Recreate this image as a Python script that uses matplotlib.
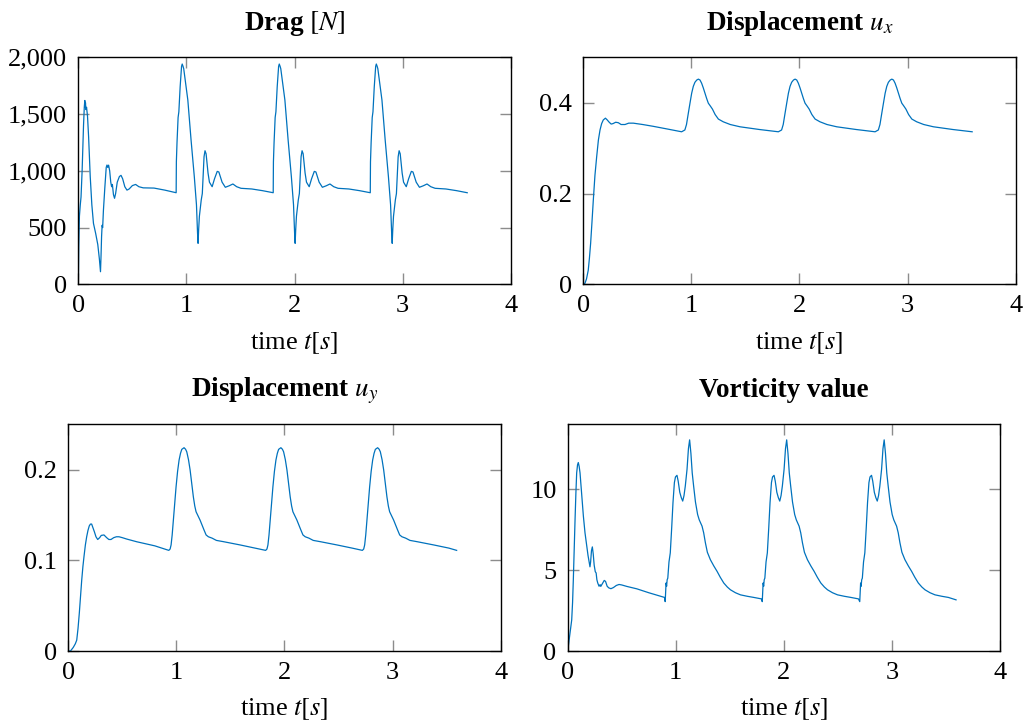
import matplotlib
matplotlib.use("Agg")
import matplotlib.pyplot as plt
from matplotlib.ticker import FuncFormatter

plt.rcParams['font.family'] = 'serif'
plt.rcParams['font.serif'] = ['Liberation Serif', 'DejaVu Serif']
plt.rcParams['mathtext.fontset'] = 'stix'
plt.rcParams['font.size'] = 19

BLUE = '#0072BD'

# ---- Drag [N] ----
t_drag = [0.000, 0.004, 0.010, 0.018, 0.025, 0.035, 0.048, 0.055, 0.060, 0.063, 0.066, 0.070, 0.076, 0.085,
          0.095, 0.110, 0.125, 0.140, 0.160, 0.180, 0.195, 0.205, 0.210, 0.215, 0.220, 0.225, 0.232, 0.245,
          0.258, 0.265, 0.272, 0.280, 0.290, 0.300, 0.308, 0.315, 0.325, 0.335, 0.345, 0.360, 0.380, 0.395,
          0.410, 0.430, 0.450, 0.470, 0.500, 0.530, 0.560, 0.600, 0.700, 0.800,
          0.905, 0.907, 0.913, 0.917, 0.923, 0.930, 0.942, 0.955, 0.961, 0.969, 0.975, 1.013, 1.043, 1.073,
          1.093, 1.103, 1.108, 1.113, 1.120, 1.137, 1.147, 1.163, 1.172, 1.182, 1.200, 1.213, 1.238, 1.260,
          1.285, 1.300, 1.330, 1.360, 1.395, 1.430, 1.465, 1.505, 1.605, 1.705,
          1.803, 1.805, 1.811, 1.815, 1.821, 1.828, 1.840, 1.853, 1.859, 1.867, 1.873, 1.911, 1.941, 1.971,
          1.991, 2.001, 2.006, 2.011, 2.018, 2.035, 2.045, 2.061, 2.070, 2.080, 2.098, 2.111, 2.136, 2.158,
          2.183, 2.198, 2.228, 2.258, 2.293, 2.328, 2.363, 2.403, 2.503, 2.603,
          2.701, 2.703, 2.709, 2.713, 2.719, 2.726, 2.738, 2.751, 2.757, 2.765, 2.771, 2.809, 2.839, 2.869,
          2.889, 2.899, 2.904, 2.909, 2.916, 2.933, 2.943, 2.959, 2.968, 2.978, 2.996, 3.009, 3.034, 3.056,
          3.081, 3.096, 3.126, 3.156, 3.191, 3.226, 3.261, 3.301, 3.401, 3.501, 3.598]
drag = [0, 330, 600, 700, 770, 1000, 1400, 1560, 1620, 1560, 1600, 1540, 1560, 1480,
        1300, 950, 700, 537, 450, 350, 220, 111, 250, 420, 520, 500, 650, 850,
        1030, 1051, 1030, 1050, 1000, 900, 860, 880, 790, 758, 800, 900, 950, 960,
        930, 860, 830, 840, 870, 880, 860, 850, 848, 830,
        807, 1080, 1250, 1330, 1470, 1520, 1741, 1920, 1941, 1920, 1900, 1624, 1271, 948,
        700, 449, 361, 480, 600, 743, 800, 1124, 1177, 1150, 980, 900, 860, 930,
        995, 990, 900, 855, 868, 884, 860, 846, 840, 825,
        807, 1080, 1250, 1330, 1470, 1520, 1741, 1920, 1941, 1920, 1900, 1624, 1271, 948,
        700, 449, 361, 480, 600, 743, 800, 1124, 1177, 1150, 980, 900, 860, 930,
        995, 990, 900, 855, 868, 884, 860, 846, 840, 825,
        807, 1080, 1250, 1330, 1470, 1520, 1741, 1920, 1941, 1920, 1900, 1624, 1271, 948,
        700, 449, 361, 480, 600, 743, 800, 1124, 1177, 1150, 980, 900, 860, 930,
        995, 990, 900, 855, 868, 884, 860, 846, 840, 825, 807]

# ---- Displacement u_x ----
t_ux = [0.000, 0.015, 0.030, 0.046, 0.057, 0.068, 0.080, 0.093, 0.108, 0.124, 0.140, 0.155, 0.170, 0.185,
        0.205, 0.222, 0.240, 0.258, 0.275, 0.300, 0.324, 0.350, 0.386, 0.420, 0.463, 0.550, 0.648, 0.780,
        0.910, 0.940, 0.955, 0.972, 0.988, 1.003, 1.018, 1.033, 1.050, 1.065, 1.080, 1.095, 1.110, 1.126,
        1.142, 1.157, 1.175, 1.195, 1.220, 1.250, 1.295, 1.360, 1.450, 1.630,
        1.805, 1.835, 1.850, 1.867, 1.883, 1.898, 1.913, 1.928, 1.945, 1.960, 1.975, 1.990, 2.005, 2.021,
        2.037, 2.052, 2.070, 2.090, 2.115, 2.145, 2.190, 2.255, 2.345, 2.525,
        2.700, 2.730, 2.745, 2.762, 2.778, 2.793, 2.808, 2.823, 2.840, 2.855, 2.870, 2.885, 2.900, 2.916,
        2.932, 2.947, 2.965, 2.985, 3.010, 3.040, 3.085, 3.150, 3.240, 3.420, 3.598]
ux = [0.000, 0.002, 0.012, 0.031, 0.058, 0.090, 0.135, 0.186, 0.240, 0.281, 0.318, 0.340, 0.354, 0.362,
      0.366, 0.362, 0.357, 0.353, 0.354, 0.357, 0.356, 0.352, 0.352, 0.355, 0.355, 0.352, 0.348, 0.342,
      0.336, 0.340, 0.352, 0.377, 0.400, 0.421, 0.436, 0.445, 0.450, 0.452, 0.450, 0.443, 0.433, 0.421,
      0.409, 0.399, 0.393, 0.386, 0.374, 0.364, 0.358, 0.352, 0.347, 0.341,
      0.336, 0.340, 0.352, 0.377, 0.400, 0.421, 0.436, 0.445, 0.450, 0.452, 0.450, 0.443, 0.433, 0.421,
      0.409, 0.399, 0.393, 0.386, 0.374, 0.364, 0.358, 0.352, 0.347, 0.341,
      0.336, 0.340, 0.352, 0.377, 0.400, 0.421, 0.436, 0.445, 0.450, 0.452, 0.450, 0.443, 0.433, 0.421,
      0.409, 0.399, 0.393, 0.386, 0.374, 0.364, 0.358, 0.352, 0.347, 0.341, 0.336]

# ---- Displacement u_y ----
t_uy = [0.000, 0.020, 0.046, 0.065, 0.078, 0.090, 0.102, 0.113, 0.124, 0.135, 0.145, 0.158, 0.170, 0.182,
        0.194, 0.205, 0.216, 0.228, 0.241, 0.256, 0.272, 0.290, 0.305, 0.330, 0.355, 0.375, 0.395, 0.420,
        0.445, 0.469, 0.500, 0.540, 0.633, 0.800,
        0.930, 0.942, 0.951, 0.961, 0.972, 0.985, 0.997, 1.011, 1.025, 1.038, 1.050, 1.071, 1.085, 1.096,
        1.112, 1.127, 1.142, 1.157, 1.170, 1.182, 1.200, 1.219, 1.240, 1.256, 1.275, 1.296, 1.330, 1.370,
        1.435, 1.589, 1.730,
        1.826, 1.838, 1.847, 1.857, 1.868, 1.881, 1.893, 1.907, 1.921, 1.934, 1.946, 1.967, 1.981, 1.992,
        2.008, 2.023, 2.038, 2.053, 2.066, 2.078, 2.096, 2.115, 2.136, 2.152, 2.171, 2.192, 2.226, 2.266,
        2.331, 2.485, 2.626,
        2.721, 2.733, 2.742, 2.752, 2.763, 2.776, 2.788, 2.802, 2.816, 2.829, 2.841, 2.862, 2.876, 2.887,
        2.903, 2.918, 2.933, 2.948, 2.961, 2.973, 2.991, 3.010, 3.031, 3.047, 3.066, 3.087, 3.121, 3.161,
        3.226, 3.380, 3.521, 3.593]
uy = [0.000, 0.000, 0.004, 0.008, 0.012, 0.025, 0.042, 0.060, 0.078, 0.093, 0.104, 0.117, 0.126, 0.133,
      0.138, 0.140, 0.140, 0.136, 0.1316, 0.126, 0.123, 0.125, 0.1275, 0.128, 0.125, 0.123, 0.123, 0.125,
      0.126, 0.126, 0.125, 0.1235, 0.1205, 0.116,
      0.111, 0.1125, 0.117, 0.128, 0.144, 0.163, 0.181, 0.198, 0.2106, 0.218, 0.2224, 0.2242, 0.2225, 0.2197,
      0.211, 0.1996, 0.185, 0.170, 0.160, 0.1536, 0.149, 0.1444, 0.138, 0.1334, 0.128, 0.126, 0.1245, 0.122,
      0.1206, 0.117, 0.1135,
      0.111, 0.1125, 0.117, 0.128, 0.144, 0.163, 0.181, 0.198, 0.2106, 0.218, 0.2224, 0.2242, 0.2225, 0.2197,
      0.211, 0.1996, 0.185, 0.170, 0.160, 0.1536, 0.149, 0.1444, 0.138, 0.1334, 0.128, 0.126, 0.1245, 0.122,
      0.1206, 0.117, 0.1135,
      0.111, 0.1125, 0.117, 0.128, 0.144, 0.163, 0.181, 0.198, 0.2106, 0.218, 0.2224, 0.2242, 0.2225, 0.2197,
      0.211, 0.1996, 0.185, 0.170, 0.160, 0.1536, 0.149, 0.1444, 0.138, 0.1334, 0.128, 0.126, 0.1245, 0.122,
      0.1206, 0.117, 0.1135, 0.111]

# ---- Vorticity value ----
t_vort = [0.000, 0.015, 0.030, 0.037, 0.045, 0.052, 0.060, 0.068, 0.076, 0.083, 0.091, 0.098, 0.106, 0.114,
          0.130, 0.145, 0.160, 0.176, 0.188, 0.200, 0.206, 0.212, 0.220, 0.228, 0.236, 0.245, 0.255, 0.263,
          0.270, 0.278, 0.290, 0.300, 0.306, 0.320, 0.338, 0.350, 0.365, 0.380, 0.400, 0.423, 0.450, 0.475,
          0.500, 0.547, 0.640, 0.750, 0.850, 0.896,
          0.902, 0.906, 0.910, 0.915, 0.920, 0.926, 0.937, 0.949, 0.962, 0.974, 0.987, 0.997, 1.011, 1.022,
          1.037, 1.051, 1.064, 1.076, 1.088, 1.104, 1.117, 1.128, 1.140, 1.152, 1.165, 1.182, 1.202, 1.217,
          1.243, 1.258, 1.274, 1.292, 1.320, 1.352, 1.382, 1.412, 1.444, 1.477, 1.506, 1.552, 1.598, 1.662,
          1.722, 1.792,
          1.800, 1.804, 1.808, 1.813, 1.818, 1.824, 1.835, 1.847, 1.860, 1.872, 1.885, 1.895, 1.909, 1.920,
          1.935, 1.949, 1.962, 1.974, 1.986, 2.002, 2.015, 2.026, 2.038, 2.050, 2.063, 2.080, 2.100, 2.115,
          2.141, 2.156, 2.172, 2.190, 2.218, 2.250, 2.280, 2.310, 2.342, 2.375, 2.404, 2.450, 2.496, 2.560,
          2.620, 2.690,
          2.702, 2.706, 2.710, 2.715, 2.720, 2.726, 2.737, 2.749, 2.762, 2.774, 2.787, 2.797, 2.811, 2.822,
          2.837, 2.851, 2.864, 2.876, 2.888, 2.904, 2.917, 2.928, 2.940, 2.952, 2.965, 2.982, 3.002, 3.017,
          3.043, 3.058, 3.074, 3.092, 3.120, 3.152, 3.182, 3.212, 3.244, 3.277, 3.306, 3.352, 3.398, 3.462,
          3.522, 3.593]
vort = [0.0, 0.8, 1.6, 1.92, 3.0, 4.4, 6.3, 8.12, 9.8, 11.0, 11.5, 11.64, 11.4, 11.0,
        9.6, 8.33, 7.3, 6.47, 5.9, 5.44, 5.2, 5.5, 6.2, 6.43, 6.0, 5.3, 4.9, 4.82,
        4.4, 4.2, 4.0, 4.1, 3.99, 4.15, 4.36, 4.3, 4.0, 3.9, 3.85, 3.92, 4.05, 4.11,
        4.08, 3.99, 3.84, 3.6, 3.4, 3.31,
        3.05, 3.6, 4.2, 4.0, 4.4, 4.5, 5.5, 6.06, 7.6, 9.16, 10.4, 10.75, 10.85, 10.5,
        9.8, 9.47, 9.26, 9.6, 10.19, 11.22, 12.5, 13.04, 12.2, 11.0, 10.19, 9.2, 8.43, 8.1,
        7.71, 7.3, 6.68, 6.1, 5.64, 5.25, 4.92, 4.55, 4.20, 3.95, 3.78, 3.6, 3.47, 3.38,
        3.31, 3.22,
        3.05, 3.6, 4.2, 4.0, 4.4, 4.5, 5.5, 6.06, 7.6, 9.16, 10.4, 10.75, 10.85, 10.5,
        9.8, 9.47, 9.26, 9.6, 10.19, 11.22, 12.5, 13.04, 12.2, 11.0, 10.19, 9.2, 8.43, 8.1,
        7.71, 7.3, 6.68, 6.1, 5.64, 5.25, 4.92, 4.55, 4.20, 3.95, 3.78, 3.6, 3.47, 3.38,
        3.31, 3.22,
        3.05, 3.6, 4.2, 4.0, 4.4, 4.5, 5.5, 6.06, 7.6, 9.16, 10.4, 10.75, 10.85, 10.5,
        9.8, 9.47, 9.26, 9.6, 10.19, 11.22, 12.5, 13.04, 12.2, 11.0, 10.19, 9.2, 8.43, 8.1,
        7.71, 7.3, 6.68, 6.1, 5.64, 5.25, 4.92, 4.55, 4.20, 3.95, 3.78, 3.6, 3.47, 3.38,
        3.31, 3.16]

x_ticks = [0, 1, 2, 3, 4]

fig = plt.figure(figsize=(10.24, 7.22), dpi=100)

ax1 = fig.add_axes([0.0765, 0.6062, 0.4222, 0.3144])
ax2 = fig.add_axes([0.5696, 0.6062, 0.4222, 0.3144])
ax3 = fig.add_axes([0.0667, 0.0983, 0.4222, 0.3140])
ax4 = fig.add_axes([0.5544, 0.0983, 0.4222, 0.3140])

panels = [
    (ax1, t_drag, drag, r'Drag $[N]$', (0, 2000), [0, 500, 1000, 1500, 2000]),
    (ax2, t_ux, ux, r'Displacement $u_x$', (0, 0.5), [0, 0.2, 0.4]),
    (ax3, t_uy, uy, r'Displacement $u_y$', (0, 0.25), [0, 0.1, 0.2]),
    (ax4, t_vort, vort, 'Vorticity value', (0, 14), [0, 5, 10]),
]

for ax, t, y, title, ylim, yticks in panels:
    ax.plot(t, y, color=BLUE, linewidth=0.9)
    ax.set_xlim(0, 4)
    ax.set_ylim(*ylim)
    ax.set_xticks(x_ticks)
    ax.set_yticks(yticks)
    ax.set_title(title, fontweight='bold', fontsize=19.5, pad=20)
    ax.set_xlabel(r'time $t[s]$', fontsize=19, labelpad=9)
    ax.tick_params(direction='in', length=8, width=1.0, color='#8c8c8c',
                   top=True, right=True, pad=8, labelsize=19)
    for sp in ax.spines.values():
        sp.set_linewidth(1.0)
        sp.set_color('black')

ax1.yaxis.set_major_formatter(FuncFormatter(lambda v, p: f'{int(v):,}'))
ax2.yaxis.set_major_formatter(FuncFormatter(lambda v, p: '0' if v == 0 else f'{v:g}'))
ax3.yaxis.set_major_formatter(FuncFormatter(lambda v, p: '0' if v == 0 else f'{v:g}'))

fig.savefig('out.png', dpi=100)
